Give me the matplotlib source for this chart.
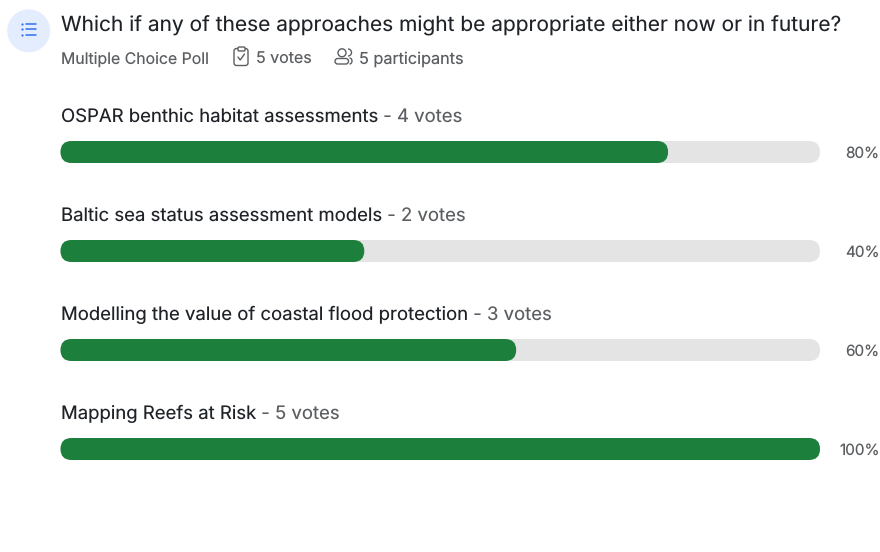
import matplotlib
matplotlib.use('Agg')
import matplotlib.pyplot as plt
from matplotlib.patches import Circle, FancyBboxPatch, Arc

plt.rcParams['font.family'] = ['Inter', 'DejaVu Sans']
plt.rcParams['text.hinting'] = 'no_hinting'
plt.rcParams['text.hinting_factor'] = 1

# Poll results
options = [
    'OSPAR benthic habitat assessments',
    'Baltic sea status assessment models',
    'Modelling the value of coastal flood protection',
    'Mapping Reefs at Risk',
]
votes = [4, 2, 3, 5]
percents = [80, 40, 60, 100]

question = 'Which if any of these approaches might be appropriate either now or in future?'
poll_type = 'Multiple Choice Poll'
vote_count = '5 votes'
participant_count = '5 participants'

DARK = '#1f2328'
GREY = '#5c5f62'
GREEN = '#1c7f3c'
TRACK = '#e4e4e4'
BLUE = '#2f6fed'

W, H = 880, 552
fig = plt.figure(figsize=(W / 100, H / 100), dpi=100, facecolor='white')
renderer = fig.canvas.get_renderer()

# Overlay in pixel coordinates for the header and its icons
page = fig.add_axes([0, 0, 1, 1])
page.set_xlim(0, W)
page.set_ylim(H, 0)
page.axis('off')

# Bars use a percent scale, one row per option
bar_left, bar_right = 60.5, 820
row_top, row_bottom = 102.5, 498.5
ax = fig.add_axes([bar_left / W, 1 - row_bottom / H,
                   (bar_right - bar_left) / W, (row_bottom - row_top) / H])
ax.set_xlim(0, 100)
ax.set_ylim(len(options) - 0.5, -0.5)
ax.axis('off')

px_x = (bar_right - bar_left) / 100
px_y = (row_bottom - row_top) / len(options)
bar_h = 22 / px_y
radius = 11 / px_x


def rounded_bar(row, value, color, z):
    ax.add_patch(FancyBboxPatch((0, row - bar_h / 2), value, bar_h,
                                boxstyle=f'round,pad=0,rounding_size={radius}',
                                mutation_aspect=px_x / px_y,
                                fc=color, ec='none', zorder=z, clip_on=False))


for i, (name, n, pct) in enumerate(zip(options, votes, percents)):
    rounded_bar(i, 100, TRACK, 1)
    rounded_bar(i, pct, GREEN, 2)
    label = ax.annotate(name, xy=(0, i), xytext=(0, 30), textcoords='offset pixels',
                        fontsize=13.35, color=DARK, va='baseline', ha='left')
    # Vote count follows the name on the same baseline
    label_w = label.get_window_extent(renderer).width
    ax.annotate(f' - {n} votes', xy=(0, i), xytext=(label_w, 30),
                textcoords='offset pixels', fontsize=13.35, color=GREY,
                va='baseline', ha='left')
    ax.annotate(f'{pct}%', xy=(100, i), xytext=(59.5, -6), textcoords='offset pixels',
                fontsize=11, color=GREY, va='baseline', ha='right')

# Header text
page.text(61, 31, question, fontsize=15.05, color=DARK, va='baseline')
page.text(61, 64, poll_type, fontsize=11.4, color=GREY, va='baseline')
page.text(256, 64, vote_count, fontsize=11.5, color=GREY, va='baseline')
page.text(359, 64, participant_count, fontsize=11.7, color=GREY, va='baseline')

# List icon inside the pale circle
page.add_patch(Circle((28.7, 30.8), 21.5, fc='#e4edfd', ec='none'))
for y in (23.5, 29.3, 35):
    page.plot([26, 36], [y, y], color=BLUE, lw=1.1, solid_capstyle='round')
    page.plot([22.3], [y], 'o', color=BLUE, ms=1.6, mew=0)

# Clipboard icon
page.add_patch(FancyBboxPatch((234, 48.5), 14, 17, boxstyle='round,pad=0,rounding_size=2.5',
                              fc='white', ec=GREY, lw=1.0))
page.add_patch(FancyBboxPatch((238, 47), 7, 4, boxstyle='round,pad=0,rounding_size=1.2',
                              fc='white', ec=GREY, lw=1.0))
page.plot([238, 240.2, 244.5], [57, 60, 54], color=GREY, lw=1.0,
          solid_capstyle='round')

# Participants icon
page.add_patch(Circle((342, 52.8), 4, fc='none', ec=GREY, lw=1.0))
page.add_patch(FancyBboxPatch((335, 58.5), 13.5, 5.5, boxstyle='round,pad=0,rounding_size=2.7',
                              fc='none', ec=GREY, lw=1.0))
page.add_patch(Arc((348, 52.5), 7, 7, theta1=-90, theta2=90, ec=GREY, lw=1.0))
page.add_patch(Arc((349.5, 61), 5, 6, theta1=-90, theta2=90, ec=GREY, lw=1.0))

fig.savefig('out.png', dpi=100, facecolor='white')
